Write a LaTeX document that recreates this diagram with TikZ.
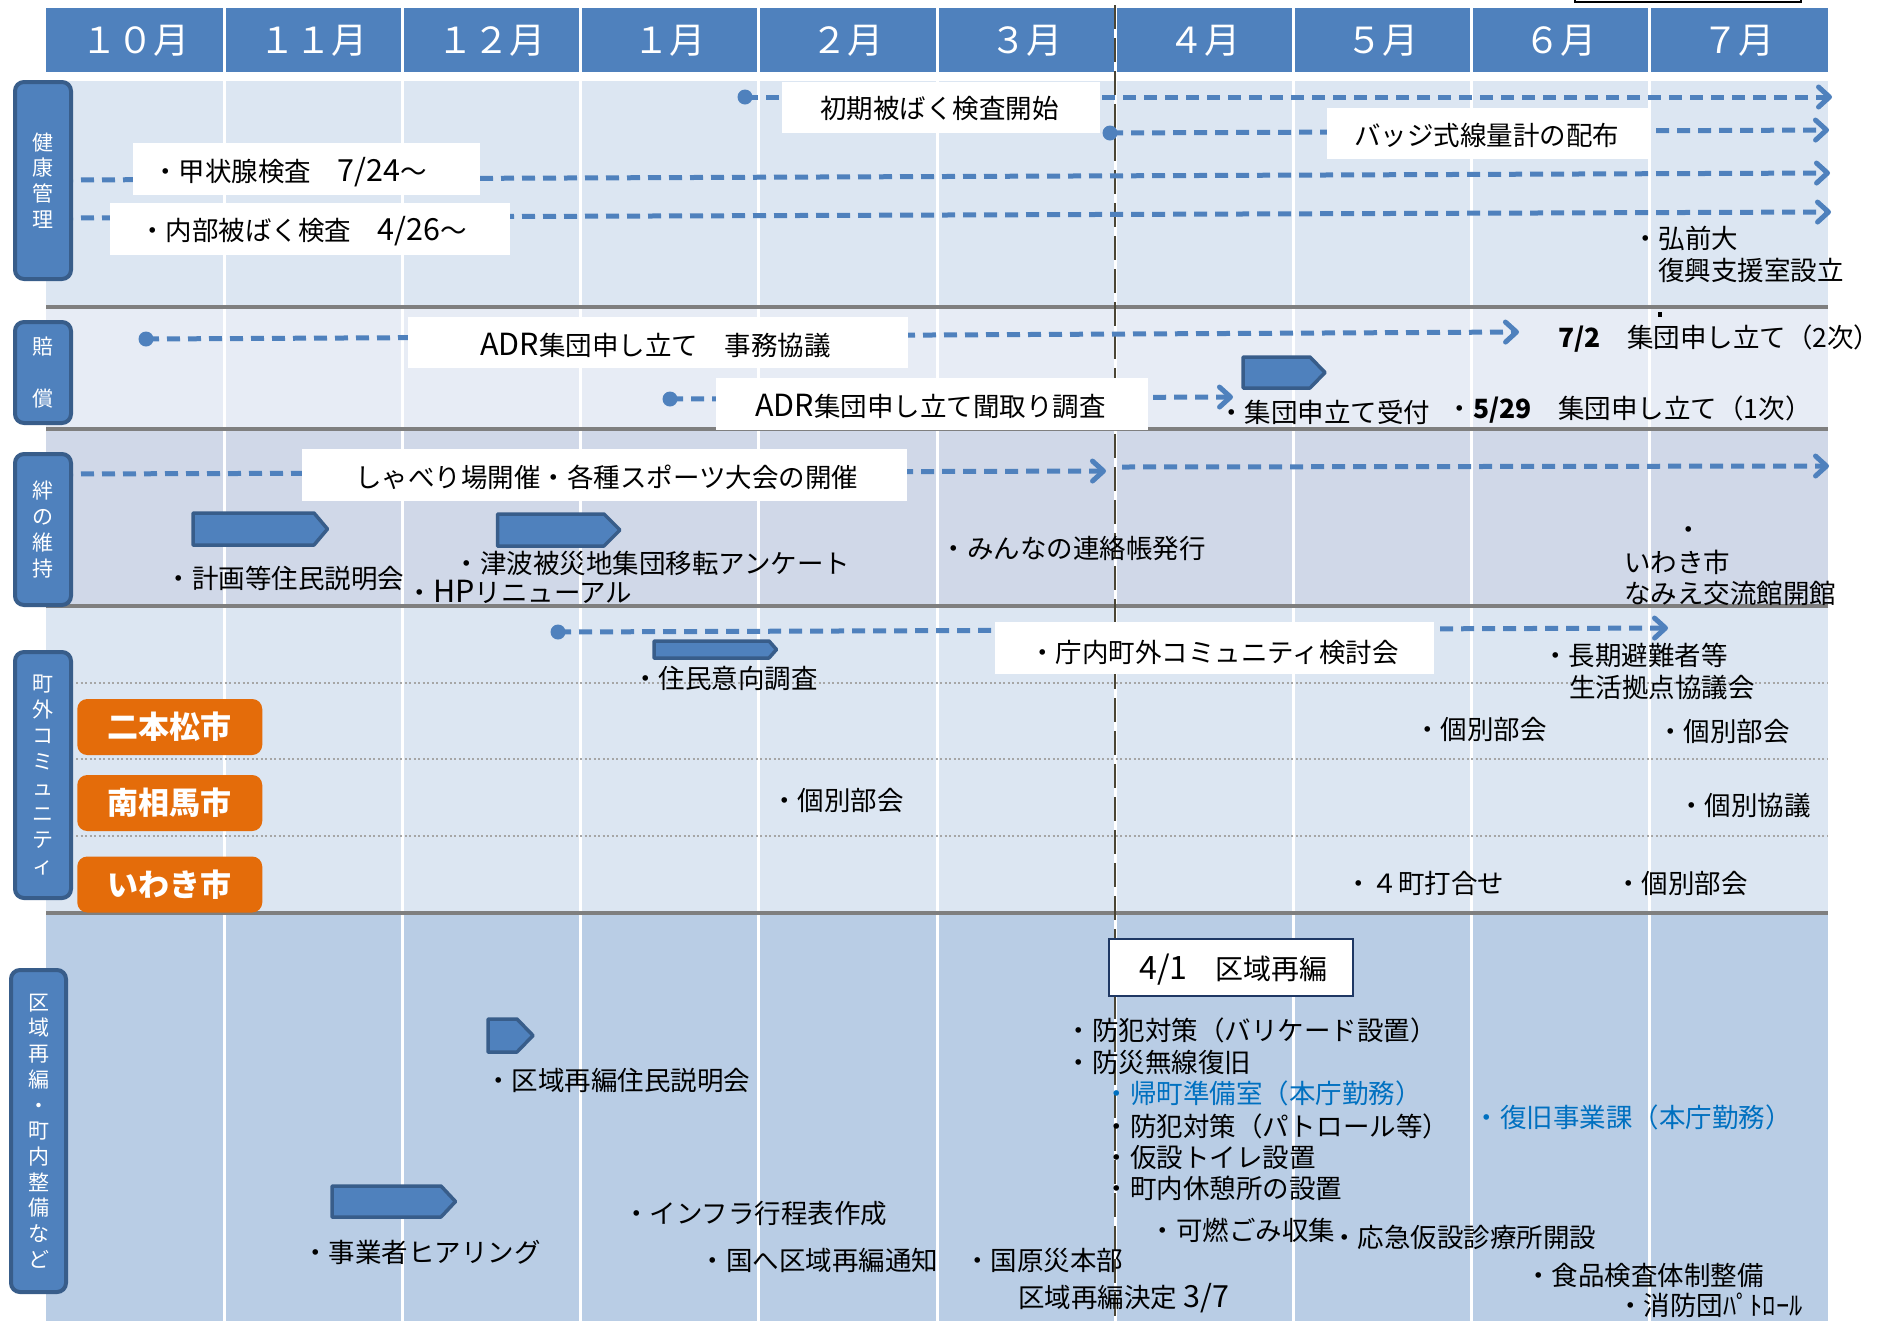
\documentclass[tikz,border=0pt]{standalone}
\usepackage{fontspec}
\setmainfont{Noto Sans CJK JP}
\usetikzlibrary{arrows.meta}
\definecolor{hdr}{HTML}{4F81BD}
\definecolor{hdrdk}{HTML}{385D8A}
\definecolor{rowA}{HTML}{DCE6F2}
\definecolor{rowB}{HTML}{E7ECF5}
\definecolor{rowC}{HTML}{D0D8E8}
\definecolor{rowE}{HTML}{B9CDE5}
\definecolor{sepgray}{HTML}{7F7F7F}
\definecolor{dotgray}{HTML}{A6A6A6}
\definecolor{orng}{HTML}{E46C0A}
\definecolor{bluetx}{HTML}{0070C0}
\definecolor{vdash}{HTML}{4A4535}
\definecolor{navy}{HTML}{1F3864}
\newcommand{\txtfont}{\fontsize{26.5pt}{31pt}\selectfont}
\newcommand{\lblfont}{\fontsize{21pt}{25.7pt}\selectfont}
\newcommand{\lat}[1]{\scalebox{1.15}{#1}}
\begin{document}
\begin{tikzpicture}[x=1pt,y=-1pt,
  txt/.style={anchor=west,inner sep=0pt,font=\txtfont,text height=23.5pt,text depth=3pt},
  btxt/.style={txt,text=bluetx},
  darrow/.style={draw=hdr,line width=5pt,dash pattern=on 13pt off 8pt,-{Straight Barb[length=11pt,width=20pt,round]}},
  dline/.style={draw=hdr,line width=5pt,dash pattern=on 13pt off 8pt},
  sdot/.style={circle,fill=hdr,inner sep=0pt,minimum size=15pt},
  wbox/.style={rectangle,fill=white,inner sep=0pt},
  rowlbl/.style={rectangle,rounded corners=9pt,fill=hdr,draw=hdrdk,line width=4pt,inner sep=0pt,minimum width=56pt,text=white,font=\lblfont,align=center},
  citybox/.style={rectangle,rounded corners=10pt,fill=orng,inner sep=0pt,minimum width=185pt,minimum height=56pt,text=white,font=\fontsize{31pt}{34pt}\selectfont\bfseries},
  pent/.style={fill=hdr,draw=hdrdk,line width=3.5pt,line join=round},
  month/.style={inner sep=0pt,text=white,font=\fontsize{36pt}{38pt}\selectfont},
]
\useasboundingbox (0,0) rectangle (1884,1326);
\fill[white] (0,0) rectangle (1884,1326);
% header and rows
\fill[hdr] (46,8) rectangle (1828,72);
\fill[rowA] (46,81) rectangle (1828,307);
\fill[rowB] (46,307) rectangle (1828,429);
\fill[rowC] (46,429) rectangle (1828,606);
\fill[rowA] (46,606) rectangle (1828,913);
\fill[rowE] (46,913) rectangle (1828,1321);
\foreach \k in {1,...,9} \draw[white,line width=3pt] ({46+178.2*\k},8) -- ({46+178.2*\k},1321);
\foreach \m [count=\i from 0] in {１０月,１１月,１２月,１月,２月,３月,４月,５月,６月,７月}
  \node[month] (m\i) at ({46+178.2*(\i+0.5)},41) {\m};
\foreach \yy in {307,429,606,913} \draw[sepgray,line width=3.5pt] (46,\yy) -- (1828,\yy);
\foreach \yy in {683,759,836} \draw[dotgray,line width=2.5pt,dash pattern=on 2pt off 2.5pt] (76,\yy) -- (1828,\yy);
% partial box at top right
\draw[black,line width=1.5pt] (1575,-2) -- (1575,2) -- (1801,2) -- (1801,-2);
% April dashed line
\draw[vdash,line width=2.5pt,dash pattern=on 24pt off 9pt] (1115,5) -- (1115,1317);
% coordinates of connectors
\coordinate (e1) at (1832,97);
\coordinate (e2) at (1829,130);
\coordinate (s3) at (60,180);   \coordinate (e3) at (1830,173);
\coordinate (s4) at (60,218);   \coordinate (e4) at (1831,212);
\coordinate (e5) at (1519,332);
\coordinate (e6) at (1233,397);
\coordinate (s7) at (60,474);   \coordinate (e7) at (1106,471);
\coordinate (s8) at (1122,467); \coordinate (e8) at (1829,466);
\coordinate (e9) at (1668,628);
\node[sdot] (d1) at (745,97) {};
\node[sdot] (d2) at (1110,133) {};
\node[sdot] (d5) at (146,339) {};
\node[sdot] (d6) at (670,399) {};
\node[sdot] (d9) at (558,632) {};
\draw[darrow] (d1.center) -- (e1);
\draw[darrow] (d2.center) -- (e2);
\draw[darrow] (s3) -- (e3);
\draw[darrow] (s4) -- (e4);
\draw[darrow] (d5.center) -- (e5);
\draw[darrow] (d6.center) -- (e6);
\draw[darrow] (s7) -- (e7);
\draw[darrow] (s8) -- (e8);
\draw[darrow] (d9.center) -- (e9);
% pentagons
\draw[pent] (1243,357) -- (1310,357) -- (1325,372.5) -- (1310,388) -- (1243,388) -- cycle;
\draw[pent] (193,513) -- (314,513) -- (327.5,529) -- (314,545) -- (193,545) -- cycle;
\draw[pent] (497.5,514) -- (604,514) -- (620,530) -- (604,546) -- (497.5,546) -- cycle;
\draw[pent] (654,641) -- (769,641) -- (776.5,649.5) -- (769,658) -- (654,658) -- cycle;
\draw[pent] (488,1019) -- (517,1019) -- (533,1035.5) -- (517,1052) -- (488,1052) -- cycle;
\draw[pent] (332,1186) -- (441,1186) -- (455.5,1201.5) -- (441,1217) -- (332,1217) -- cycle;
% white label boxes
\node[wbox,minimum width=318pt,minimum height=51pt] (b1) at (941,107.5) {};
\node[wbox,minimum width=323pt,minimum height=51pt] (b2) at (1488.5,133.5) {};
\node[wbox,minimum width=347pt,minimum height=52pt] (b3) at (306.5,169) {};
\node[wbox,minimum width=400pt,minimum height=52pt] (b4) at (310,229) {};
\node[wbox,minimum width=500pt,minimum height=51pt] (b5) at (658,342.5) {};
\node[wbox,minimum width=432pt,minimum height=52pt] (b6) at (932,404) {};
\node[wbox,minimum width=605pt,minimum height=52pt] (b7) at (604.5,475) {};
\node[wbox,minimum width=439pt,minimum height=52pt] (b8) at (1214.5,648) {};
\node[wbox,draw=navy,line width=2.5pt,minimum width=244pt,minimum height=57pt] (b9) at (1231,967.5) {};
% texts in boxes
\node[txt] (tb1) at (820,108.5) {初期被ばく検査開始};
\node[txt] (tb2) at (1354,135) {バッジ式線量計の配布};
\node[txt] (tb3) at (152,171) {・甲状腺検査　\lat{7/24}～};
\node[txt] (tb4) at (139,230) {・内部被ばく検査　\lat{4/26}～};
\node[txt] (tb5) at (480,345) {\lat{ADR}集団申し立て　事務協議};
\node[txt] (tb6) at (755,406) {\lat{ADR}集団申し立て聞取り調査};
\node[txt] (tb7) at (355,477) {しゃべり場開催・各種スポーツ大会の開催};
\node[txt] (tb8) at (1029,652) {・庁内町外コミュニティ検討会};
\node[txt,font=\fontsize{28pt}{32pt}\selectfont,text height=25pt,text depth=3pt] (tb9) at (1139,968) {\lat{4/1}　区域再編};
% row labels
\node[rowlbl,minimum height=197pt] (r1) at (43,180.5) {健\\康\\管\\理};
\node[rowlbl,minimum height=101pt,font=\fontsize{21pt}{52pt}\selectfont] (r2) at (43,372.5) {賠\\償};
\node[rowlbl,minimum height=151pt] (r3) at (43,529.5) {絆\\の\\維\\持};
\node[rowlbl,minimum height=246pt,font=\fontsize{21pt}{25.9pt}\selectfont] (r4) at (43,775) {町\\外\\コ\\ミ\\ュ\\ニ\\テ\\ィ};
\node[rowlbl,minimum width=55pt,minimum height=322pt] (r5) at (38.5,1131) {区\\域\\再\\編\\・\\町\\内\\整\\備\\な\\ど};
% city boxes
\node[citybox] (c1) at (169.75,727) {二本松市};
\node[citybox] (c2) at (169.75,803) {南相馬市};
\node[citybox] (c3) at (169.75,884.5) {いわき市};
% free texts
\node[txt] (t1) at (1632,238) {・弘前大};
\node[txt] (t2) at (1658,270) {復興支援室設立};
\fill (1658,312) rectangle (1662,316.5);
\node[txt] (t3) at (1558,337) {\textbf{7/2}　集団申し立て（2次）};
\node[txt] (t4) at (1218,412) {・集団申立て受付};
\node[txt] (t5) at (1446.5,408) {・\textbf{5/29}　集団申し立て（1次）};
\node[txt] (t6) at (165.5,578) {・計画等住民説明会};
\node[txt] (t7) at (453.5,563) {・津波被災地集団移転アンケート};
\node[txt] (t8) at (406.6,592) {・\lat{HP}リニューアル};
\node[txt] (t9) at (940.6,548) {・みんなの連絡帳発行};
\node[txt,anchor=center] (t10) at (1689,529) {・};
\node[txt] (t11) at (1624,562) {いわき市};
\node[txt] (t12) at (1624,593) {なみえ交流館開館};
\node[txt] (t13) at (632,678) {・住民意向調査};
\node[txt] (t14) at (1542,655) {・長期避難者等};
\node[txt] (t15) at (1569,687) {生活拠点協議会};
\node[txt] (t16) at (1414,729) {・個別部会};
\node[txt] (t17) at (1657,731) {・個別部会};
\node[txt] (t18) at (771,800) {・個別部会};
\node[txt] (t19) at (1678,805) {・個別協議};
\node[txt] (t20) at (1345,883) {・４町打合せ};
\node[txt] (t21) at (1615,883) {・個別部会};
\node[txt] (t22) at (485,1080) {・区域再編住民説明会};
\node[txt] (t23) at (302,1252) {・事業者ヒアリング};
\node[txt] (t24) at (623,1213) {・インフラ行程表作成};
\node[txt] (t25) at (699.5,1260) {・国へ区域再編通知};
\node[txt] (t26) at (964,1260) {・国原災本部};
\node[txt] (t27) at (1018,1297) {区域再編決定 \lat{3/7}};
\node[txt] (t28) at (1065.6,1030) {・防犯対策（バリケード設置）};
\node[txt] (t29) at (1065.6,1062) {・防災無線復旧};
\node[btxt] (t30) at (1103.5,1093) {・帰町準備室（本庁勤務）};
\node[txt] (t31) at (1103.5,1126) {・防犯対策（パトロール等）};
\node[txt] (t32) at (1103.5,1157) {・仮設トイレ設置};
\node[txt] (t33) at (1103.5,1188) {・町内休憩所の設置};
\node[txt] (t34) at (1149.5,1230) {・可燃ごみ収集};
\node[txt] (t35) at (1331,1237) {・応急仮設診療所開設};
\node[txt] (t36) at (1525,1275) {・食品検査体制整備};
\node[txt] (t37) at (1617,1305) {・消防団ﾊﾟﾄﾛｰﾙ};
\node[btxt] (t38) at (1473.5,1117) {・復旧事業課（本庁勤務）};
\end{tikzpicture}
\end{document}
